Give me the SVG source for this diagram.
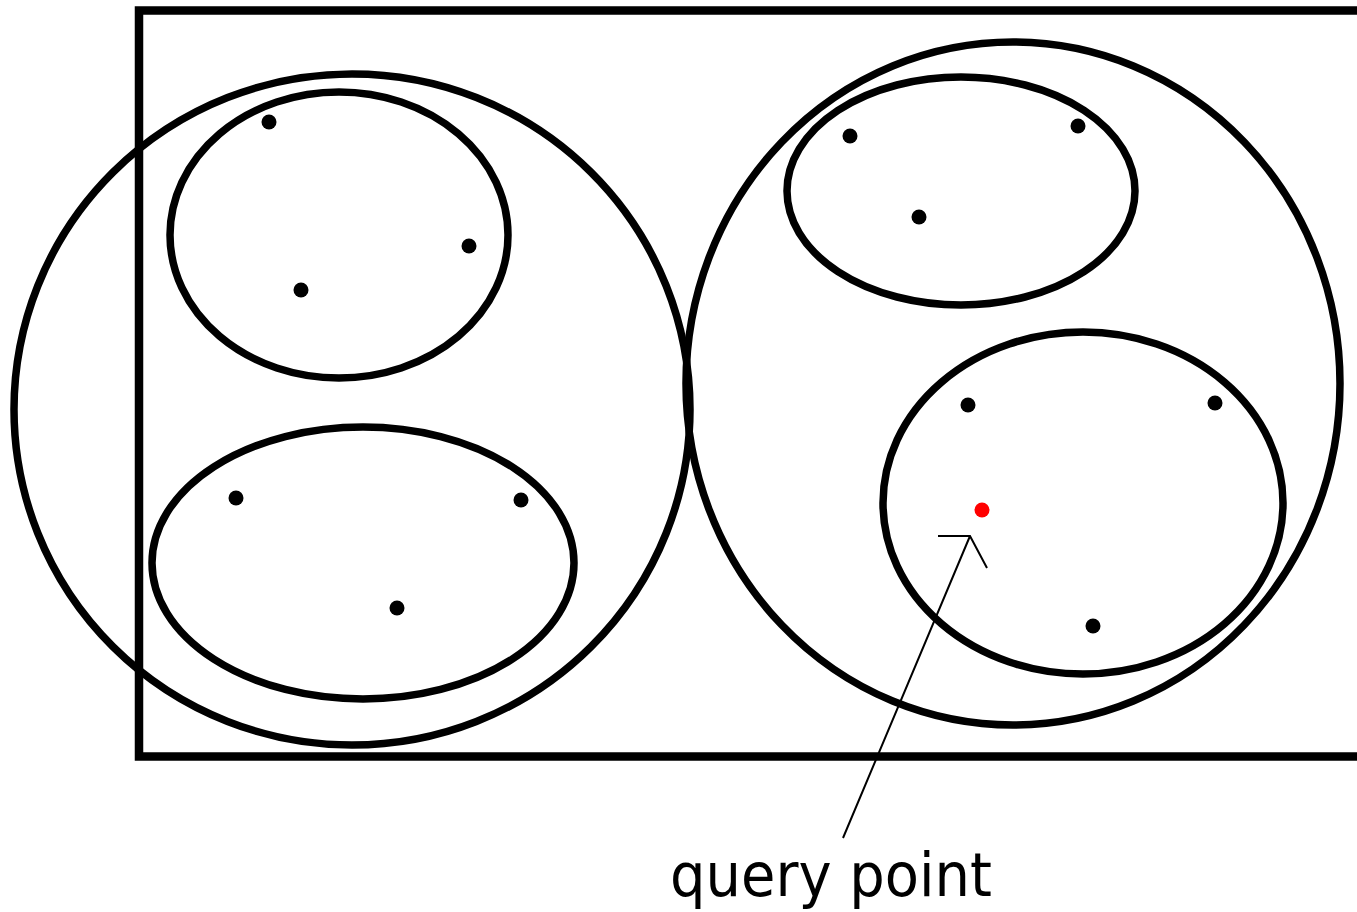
<svg xmlns="http://www.w3.org/2000/svg" width="1357" height="912" viewBox="0 0 1357 912">
<style>
.c{fill:none;stroke:#000;stroke-width:7.5}
.d{fill:#000}
.q{fill:#ff0000}
.l{fill:none;stroke:#000;stroke-width:2}
.t{font-family:"DejaVu Sans",Verdana,sans-serif;font-size:61px;fill:#000}
</style>
<rect width="1357" height="912" fill="#fff"/>
<g id="bounds"><rect x="139" y="10.5" width="1240" height="746" fill="none" stroke="#000" stroke-width="8.5"/></g>
<g id="left-cluster"><ellipse class="c" cx="352" cy="409.5" rx="338" ry="335.5"/></g>
<g id="left-top"><ellipse class="c" cx="339" cy="235" rx="169" ry="143"/>
<circle class="d" cx="269" cy="122" r="7.5"/><circle class="d" cx="469" cy="246" r="7.5"/><circle class="d" cx="301" cy="290" r="7.5"/></g>
<g id="left-bottom"><ellipse class="c" cx="363" cy="563" rx="211" ry="136"/>
<circle class="d" cx="236" cy="498" r="7.5"/><circle class="d" cx="521" cy="500" r="7.5"/><circle class="d" cx="397" cy="608" r="7.5"/></g>
<g id="right-cluster"><ellipse class="c" cx="1013" cy="383.5" rx="327" ry="341.5"/></g>
<g id="right-top"><ellipse class="c" cx="961" cy="191" rx="174" ry="114"/>
<circle class="d" cx="850" cy="136" r="7.5"/><circle class="d" cx="1078" cy="126" r="7.5"/><circle class="d" cx="919" cy="217" r="7.5"/></g>
<g id="right-bottom"><ellipse class="c" cx="1083" cy="503" rx="200" ry="171"/>
<circle class="d" cx="968" cy="405" r="7.5"/><circle class="d" cx="1215" cy="403" r="7.5"/><circle class="d" cx="1093" cy="626" r="7.5"/>
<circle class="q" cx="982" cy="510" r="7.5"/></g>
<g id="connectors">
<path class="l" d="M843 838 L970 536 M938 536 L970 536 L987 568"/>
</g>
<g id="label"><text class="t" x="670" y="896" textLength="322" lengthAdjust="spacingAndGlyphs">query point</text></g>
</svg>
